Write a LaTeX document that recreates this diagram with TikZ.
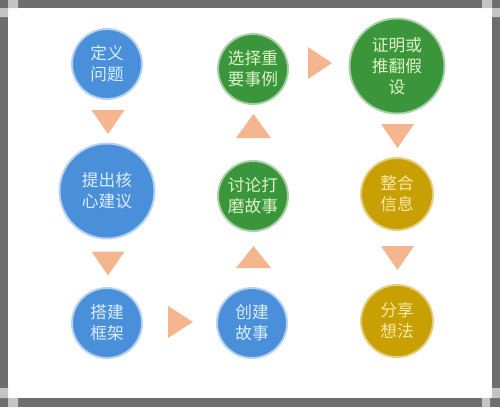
\documentclass[tikz,border=0pt]{standalone}
\usepackage{fontspec}
\newfontfamily\cjk{Noto Sans CJK SC}
\usepackage{tikz}
\usetikzlibrary{positioning}
\definecolor{m_blue}{HTML}{4A8FDA}
\definecolor{m_green}{HTML}{3B963B}
\definecolor{m_gold}{HTML}{C8A004}
\definecolor{m_peach}{HTML}{F5B58E}
\definecolor{m_frame}{HTML}{6E6E6E}
\definecolor{m_corner}{HTML}{C4C4C4}
\definecolor{m_bluetext}{HTML}{D9EEF8}
\definecolor{m_greentext}{HTML}{DDF2C8}
\definecolor{m_goldtext}{HTML}{F7E9A6}

\begin{document}
\begin{tikzpicture}[
        x=0.02cm, y=-0.02cm,
        every node/.style={font=\cjk\fontsize{9.5}{12}\selectfont, align=center, inner sep=0pt},
        bubble/.style={circle, line width=1.1pt},
        blue bubble/.style={bubble, fill=m_blue, draw=m_blue!40!white, text=m_bluetext},
        green bubble/.style={bubble, fill=m_green, draw=m_green!45!white, text=m_greentext},
        gold bubble/.style={bubble, fill=m_gold, draw=m_gold!50!white, text=m_goldtext},
        small/.style={minimum size=1.4cm},
        big/.style={minimum size=1.9cm},
        tri/.style={fill=m_peach}
    ]
        % frame
        \useasboundingbox (0,0) rectangle (500,407);
        \fill[m_frame] (0,0) rectangle (500,407);
        \fill[white] (8,8) rectangle (492,398);
        \fill[m_corner] (8,0) rectangle (18,8) (0,8) rectangle (8,17);
        \fill[m_corner] (482,0) rectangle (492,8) (492,8) rectangle (500,17);
        \fill[m_corner] (0,388) rectangle (8,398) (8,398) rectangle (18,407);
        \fill[m_corner] (482,398) rectangle (490,407) (492,388) rectangle (500,398);

        % steps
        \node[blue bubble, small] (define) at (107,64) {定义\\问题};
        \node[blue bubble, big] (propose) at (107,191) {提出核\\心建议};
        \node[blue bubble, small] (frame) at (107,323) {搭建\\框架};
        \node[blue bubble, small] (story) at (252,323) {创建\\故事};
        \node[green bubble, small] (polish) at (253,196) {讨论打\\磨故事};
        \node[green bubble, small] (pick) at (253,69) {选择重\\要事例};
        \node[green bubble, big] (prove) at (397,66) {证明或\\推翻假\\设};
        \node[gold bubble, minimum size=1.44cm] (merge) at (397,194) {整合\\信息};
        \node[gold bubble, minimum size=1.44cm] (share) at (397,321) {分享\\想法};

        % arrows
        \coordinate (t1) at (108,122);
        \coordinate (t2) at (108,263.5);
        \coordinate (t3) at (180.5,322);
        \coordinate (t4) at (253.5,257);
        \coordinate (t5) at (253.5,126);
        \coordinate (t6) at (320,63);
        \coordinate (t7) at (397.5,136);
        \coordinate (t8) at (397.5,258);
        \fill[tri] (t1) ++(-16.5,-12) -- ++(33,0) -- ++(-16.5,24) -- cycle;
        \fill[tri] (t2) ++(-16.5,-12) -- ++(33,0) -- ++(-16.5,24) -- cycle;
        \fill[tri] (t3) ++(-12.5,-16) -- ++(0,32) -- ++(25,-16) -- cycle;
        \fill[tri] (t4) ++(-17.5,11) -- ++(35,0) -- ++(-17.5,-22) -- cycle;
        \fill[tri] (t5) ++(-17.5,12) -- ++(35,0) -- ++(-17.5,-24) -- cycle;
        \fill[tri] (t6) ++(-12,-16) -- ++(0,32) -- ++(24,-16) -- cycle;
        \fill[tri] (t7) ++(-16.5,-12) -- ++(33,0) -- ++(-16.5,24) -- cycle;
        \fill[tri] (t8) ++(-16.5,-12) -- ++(33,0) -- ++(-16.5,24) -- cycle;
    \end{tikzpicture}
\end{document}
